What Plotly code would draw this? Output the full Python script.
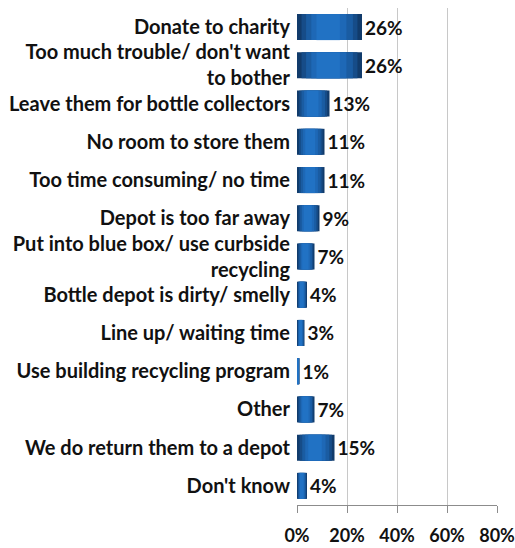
import plotly.graph_objects as go

categories = [
    "Donate to charity",
    "Too much trouble/ don't want<br>to bother",
    "Leave them for bottle collectors",
    "No room to store them",
    "Too time consuming/ no time",
    "Depot is too far away",
    "Put into blue box/ use curbside<br>recycling",
    "Bottle depot is dirty/ smelly",
    "Line up/ waiting time",
    "Use building recycling program",
    "Other",
    "We do return them to a depot",
    "Don't know",
]
values = [26, 26, 13, 11, 11, 9, 7, 4, 3, 1, 7, 15, 4]
x_ticks = [0, 20, 40, 60, 80]
x_tick_labels = ["0%", "20%", "40%", "60%", "80%"]

FONT = "Lato"
BAR_W = 0.68

fig = go.Figure()

# cylinder-like shading: darker outer bar, lighter inner bands (relative to each bar's length)
shade_layers = [
    (0.0, 1.0, "#113b6b"),
    (0.07, 0.86, "#164c88"),
    (0.14, 0.72, "#1a5ca2"),
    (0.22, 0.54, "#1e68b6"),
    (0.30, 0.36, "#2172c4"),
]
for i, (start, frac, col) in enumerate(shade_layers):
    bar_kw = {}
    if i == 0:
        bar_kw = dict(
            text=[f"{v}%" for v in values],
            textposition="outside",
            textfont=dict(family=FONT, size=19, color="#111111", weight="bold"),
        )
    fig.add_trace(
        go.Bar(
            x=[v * frac for v in values],
            base=[v * start for v in values],
            y=categories,
            orientation="h",
            width=BAR_W,
            marker=dict(color=col, line=dict(width=0)),
            hoverinfo="skip",
            cliponaxis=False,
            **bar_kw,
        )
    )

fig.update_layout(
    width=515,
    height=548,
    margin=dict(l=297, r=18, t=8, b=43),
    paper_bgcolor="white",
    plot_bgcolor="white",
    showlegend=False,
    barmode="overlay",
    font=dict(family=FONT, size=19, color="#111111"),
    uniformtext=dict(minsize=19, mode="show"),
)
fig.update_xaxes(
    range=[0, 80],
    tickvals=x_ticks,
    ticktext=x_tick_labels,
    showgrid=True,
    gridcolor="#c8c8c8",
    gridwidth=1,
    zeroline=False,
    showline=True,
    linecolor="#8c8c8c",
    ticks="outside",
    ticklen=7,
    tickcolor="#8c8c8c",
    ticklabelstandoff=7,
    ticklabeloverflow="allow",
    automargin=False,
    tickfont=dict(family=FONT, size=18, weight="bold", color="#111111"),
)
fig.update_yaxes(
    autorange="reversed",
    showgrid=False,
    showline=False,
    ticks="",
    ticklabelstandoff=6,
    automargin=False,
    tickfont=dict(family=FONT, size=20, weight="bold", color="#111111"),
)

fig.write_html(
    "out.html",
    config={"displayModeBar": False},
    post_script="document.body.style.margin='0';",
)
